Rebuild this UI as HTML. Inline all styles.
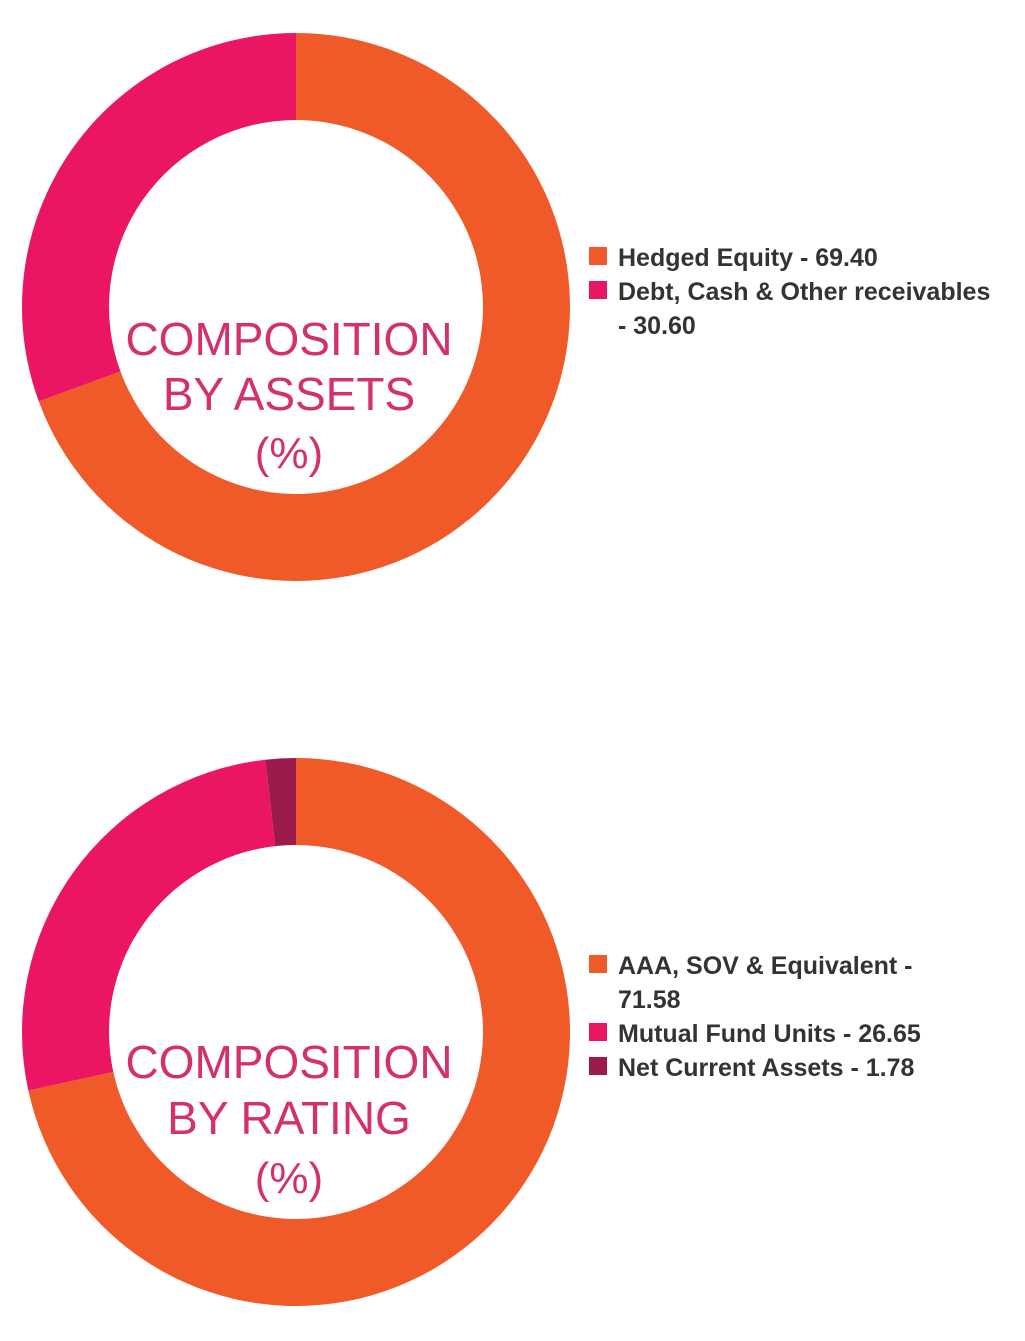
<!DOCTYPE html>
<html><head><meta charset="utf-8">
<style>
body{margin:0;width:1025px;height:1341px;background:#fff;overflow:hidden;font-family:"Liberation Sans",sans-serif;}
svg{position:absolute;left:0;top:0;}
</style></head>
<body>
<svg id="chart" width="1025" height="1341"></svg>
<script>
const assetLabels=["Hedged Equity","Debt, Cash & Other receivables"];
const assetValues=[69.40,30.60];
const ratingLabels=["AAA, SOV & Equivalent","Mutual Fund Units","Net Current Assets"];
const ratingValues=[71.58,26.65,1.78];
const colors=["#f05a28","#ea1664","#9c1b4d"];
const NS="http://www.w3.org/2000/svg";
const svg=document.getElementById('chart');
function mk(t,a){const e=document.createElementNS(NS,t);for(const k in a)e.setAttribute(k,a[k]);return e;}
function donut(cx,cy,values,name){
  const R=274,r=187,tot=values.reduce((a,b)=>a+b,0);
  let a0=-Math.PI/2;
  values.forEach((v,i)=>{
    const a1=a0+v/tot*2*Math.PI,lg=(a1-a0)>Math.PI?1:0;
    const p=(ang,rad)=>[cx+rad*Math.cos(ang),cy+rad*Math.sin(ang)];
    const [x0,y0]=p(a0,R),[x1,y1]=p(a1,R),[x2,y2]=p(a1,r),[x3,y3]=p(a0,r);
    const path=mk('path',{d:`M${x0},${y0}A${R},${R} 0 ${lg} 1 ${x1},${y1}L${x2},${y2}A${r},${r} 0 ${lg} 0 ${x3},${y3}Z`,fill:colors[i]});
    
    
    svg.appendChild(path);a0=a1;
  });
}
function title(cx,lines,ys,name){
  lines.forEach((l,i)=>{const t=mk('text',{x:cx,y:ys[i],'text-anchor':'middle','font-size':i==2?44:46,fill:'#d4306e'});
  t.textContent=l;
  
  
  svg.appendChild(t);});
}
function legend(x,rows,name){
  rows.forEach((row,i)=>{
    if(row.sq!==undefined){const s=mk('rect',{x:x,y:row.y-19,width:18,height:18,fill:colors[row.sq]});
    
    
    svg.appendChild(s);}
    const t=mk('text',{x:x+29,y:row.y,'font-size':25,'font-weight':'bold',fill:'#333'});
    t.textContent=row.text;
    
    
    svg.appendChild(t);
  });
}
donut(296,307,assetValues,'assets');
title(289,["COMPOSITION","BY ASSETS","(%)"],[355,410,468],'assets');
legend(589,[{sq:0,y:266,text:assetLabels[0]+" - "+assetValues[0].toFixed(2)},{sq:1,y:300,text:assetLabels[1]},{y:334,text:"- "+assetValues[1].toFixed(2)}],'assets');
donut(296,1032,ratingValues,'rating');
title(289,["COMPOSITION","BY RATING","(%)"],[1078,1134,1193],'rating');
legend(589,[{sq:0,y:974,text:ratingLabels[0]+" -"},{y:1008,text:ratingValues[0].toFixed(2)},{sq:1,y:1042,text:ratingLabels[1]+" - "+ratingValues[1].toFixed(2)},{sq:2,y:1076,text:ratingLabels[2]+" - "+ratingValues[2].toFixed(2)}],'rating');
</script>
</body></html>
